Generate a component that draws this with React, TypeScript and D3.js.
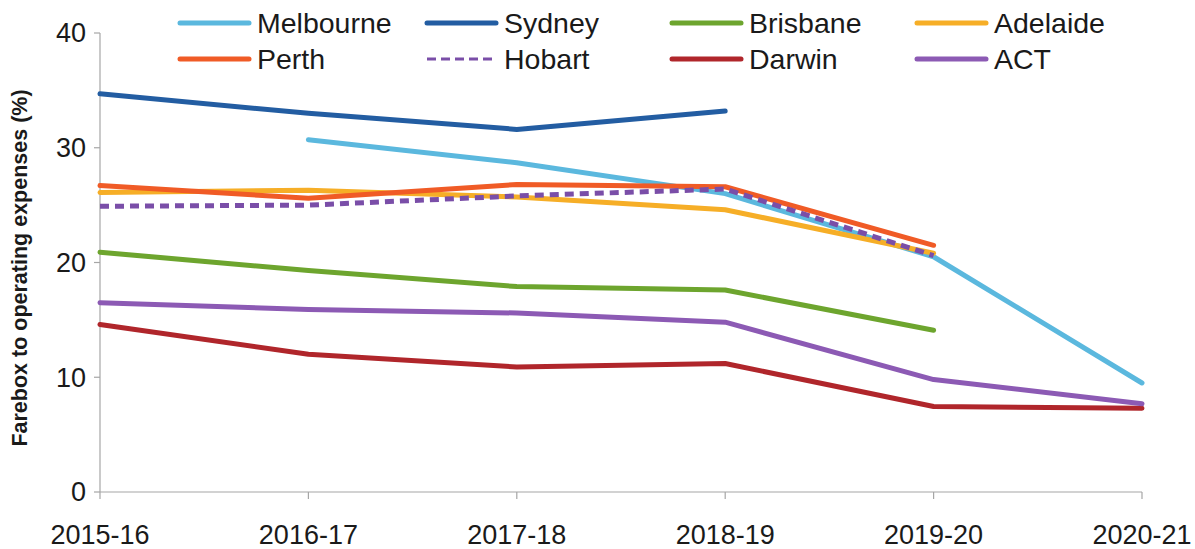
import React from "react";
import * as d3 from "d3";

const years = ["2015-16", "2016-17", "2017-18", "2018-19", "2019-20", "2020-21"];
const yTicks = [0, 10, 20, 30, 40];

const melbourne = [null, 30.7, 28.7, 26.0, 20.5, 9.5];
const sydney = [34.7, 33.0, 31.6, 33.2, null, null];
const brisbane = [20.9, 19.3, 17.9, 17.6, 14.1, null];
const adelaide = [26.1, 26.3, 25.7, 24.6, 20.8, null];
const perth = [26.7, 25.6, 26.8, 26.6, 21.5, null];
const hobart = [24.9, 25.0, 25.8, 26.4, 20.6, null];
const darwin = [14.6, 12.0, 10.9, 11.2, 7.45, 7.3];
const act = [16.5, 15.9, 15.6, 14.8, 9.8, 7.7];

const series = [
  { name: "Melbourne", values: melbourne, color: "#5BB8DE", dash: false },
  { name: "Sydney", values: sydney, color: "#235DA2", dash: false },
  { name: "Brisbane", values: brisbane, color: "#6DA52E", dash: false },
  { name: "Adelaide", values: adelaide, color: "#F6AE27", dash: false },
  { name: "Perth", values: perth, color: "#F05B26", dash: false },
  { name: "Hobart", values: hobart, color: "#7A4EA8", dash: true },
  { name: "Darwin", values: darwin, color: "#B0262B", dash: false },
  { name: "ACT", values: act, color: "#8C5AB4", dash: false },
];

// legend order (row-major as in the picture)
const legendRows = [
  ["Melbourne", "Sydney", "Brisbane", "Adelaide"],
  ["Perth", "Hobart", "Darwin", "ACT"],
];

export default function App() {
  const W = 1195, H = 549;
  const left = 100, right = 1142, top = 33, bottom = 492;
  const x = d3.scalePoint<string>().domain(years).range([left, right]);
  const y = d3.scaleLinear().domain([0, 40]).range([bottom, top]);
  const line = d3
    .line<number | null>()
    .defined((d) => d !== null)
    .x((_, i) => x(years[i]) as number)
    .y((d) => y(d as number));

  const font = "'Liberation Sans', Arial, sans-serif";
  const legCols = [180, 427, 672, 917];
  const legRowsY = [23, 59];
  const axisColor = "#A6A6A6";

  return (
    <div style={{ position: "absolute", left: 0, top: 0 }}>
      <svg width={W} height={H} style={{ display: "block", background: "#fff" }}>
        {/* axes */}
        <line x1={left} x2={left} y1={top} y2={bottom} stroke={axisColor} strokeWidth={1.2} />
        <line x1={left} x2={right} y1={bottom} y2={bottom} stroke={axisColor} strokeWidth={1.2} />
        {yTicks.map((t) => (
          <g key={t}>
            <line x1={left - 6} x2={left} y1={y(t)} y2={y(t)} stroke={axisColor} strokeWidth={1.2} />
            <text
              x={left - 14}
              y={y(t)}
              dy="0.35em"
              textAnchor="end"
              fontFamily={font}
              fontSize={27}
              fill="#1a1a1a"
            >
              {t}
            </text>
          </g>
        ))}
        {years.map((yr) => (
          <g key={yr}>
            <line x1={x(yr)} x2={x(yr)} y1={bottom} y2={bottom + 7} stroke={axisColor} strokeWidth={1.2} />
            <text
              x={x(yr)}
              y={544}
              textAnchor="middle"
              fontFamily={font}
              fontSize={27}
              fill="#1a1a1a"
            >
              {yr}
            </text>
          </g>
        ))}
        <text
          transform={`translate(27, 268) rotate(-90)`}
          textAnchor="middle"
          fontFamily={font}
          fontSize={21.5}
          fontWeight="bold"
          fill="#1a1a1a"
        >
          Farebox to operating expenses (%)
        </text>

        {/* series */}
        {series.map((s) => (
          <path
            key={s.name}
            d={line(s.values) || ""}
            fill="none"
            stroke={s.color}
            strokeWidth={5}
            strokeLinecap={s.dash ? "butt" : "round"}
            strokeLinejoin="round"
            strokeDasharray={s.dash ? "9 6" : undefined}
          />
        ))}

        {/* legend */}
        {legendRows.map((row, ri) =>
          row.map((name, ci) => {
            const s = series.find((q) => q.name === name)!;
            const lx = legCols[ci];
            const ly = legRowsY[ri];
            return (
              <g key={name}>
                <line
                  x1={lx}
                  x2={lx + 69}
                  y1={ly}
                  y2={ly}
                  stroke={s.color}
                  strokeWidth={s.dash ? 3 : 5}
                  strokeLinecap={s.dash ? "butt" : "round"}
                  strokeDasharray={s.dash ? "9 5" : undefined}
                />
                <text
                  x={lx + 77}
                  y={ly}
                  dy="0.35em"
                  fontFamily={font}
                  fontSize={28.5}
                  fill="#1a1a1a"
                >
                  {name}
                </text>
              </g>
            );
          })
        )}
      </svg>
    </div>
  );
}
